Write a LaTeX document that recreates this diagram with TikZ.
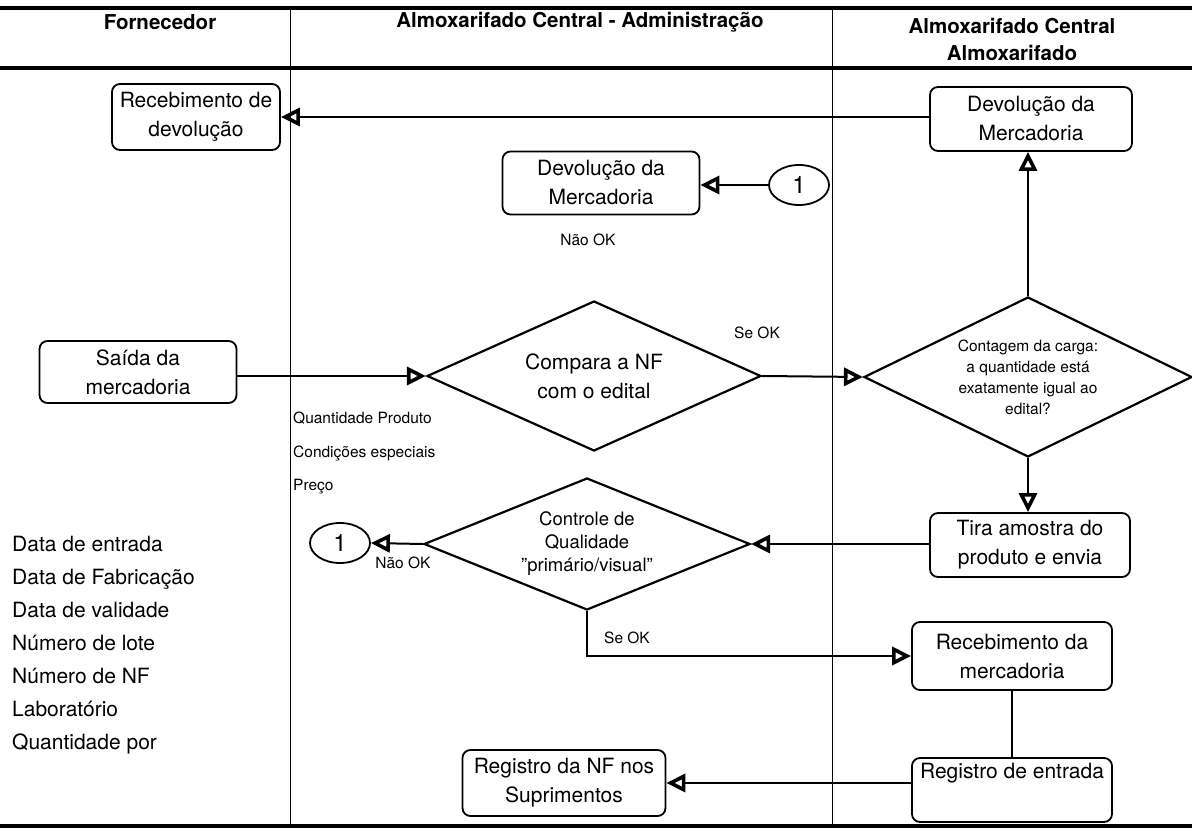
\documentclass[tikz,border=0pt]{standalone}
\usepackage{fontspec}
\setmainfont{TeX Gyre Heros}
\usetikzlibrary{arrows.meta,shapes.geometric}

% text sizes (1pt in the picture = 1 pixel of the output)
\newcommand\txtbox{\fontsize{21}{29}\selectfont}
\newcommand\txtdec{\fontsize{18.5}{23}\selectfont}
\newcommand\txtsmall{\fontsize{15.5}{21}\selectfont}
\newcommand\txtlist{\fontsize{21}{33}\selectfont}
\newcommand\txthead{\fontsize{20.5}{27}\selectfont\bfseries}
\newcommand\txtcirc{\fontsize{24}{28}\selectfont}
\newcommand\dq{\symbol{34}}

\tikzset{
  stepbox/.style={draw, line width=1.8pt, rounded corners=8pt, inner sep=0pt,
                  align=center, font=\txtbox},
  decision/.style={draw, diamond, line width=2.2pt, inner sep=0pt, align=center},
  connector/.style={ellipse, draw, line width=1.8pt, minimum width=60pt,
                    minimum height=40pt, inner sep=0pt, font=\txtcirc},
  flow/.style={line width=2pt},
  flowto/.style={flow, -{Triangle[open, length=19pt, width=18pt, line width=3.6pt]}},
  note/.style={inner sep=0pt, font=\txtsmall},
  lanehead/.style={inner sep=0pt, align=center, font=\txthead},
  lane/.style={line width=0.9pt},
  rule/.style={line width=3.5pt},
}

\begin{document}
\begin{tikzpicture}[x=1pt, y=-1pt]
\useasboundingbox (0,0) rectangle (1192,832);
\fill[white] (0,0) rectangle (1192,832);

% swimlane frame
\draw[rule] (0,8) -- (1192,8);
\draw[rule] (0,68) -- (1192,68);
\draw[rule] (0,826) -- (1192,826);
\draw[lane] (290,8) -- (290,826);
\draw[lane] (832,8) -- (832,826);

% lane titles
\node[lanehead] (hForn) at (160,22) {Fornecedor};
\node[lanehead] (hAdm) at (580,22) {Almoxarifado Central - Administração};
\node[lanehead] (hAlm) at (1012,39) {Almoxarifado Central\\Almoxarifado};

% process steps
\node[stepbox, minimum width=168pt, minimum height=66pt] (recdev) at (196,117)
  {Recebimento de\\devolução};
\node[stepbox, minimum width=202pt, minimum height=64pt] (devR) at (1031,119)
  {Devolução da\\Mercadoria};
\node[stepbox, minimum width=197pt, minimum height=63pt] (devM) at (601,183)
  {Devolução da\\Mercadoria};
\node[connector] (c1top) at (799,185) {1};
\node[note] (naoTop) at (588,240) {Não OK};

\node[stepbox, minimum width=197pt, minimum height=62pt] (saida) at (138,372)
  {Saída da\\mercadoria};
\node[decision, shape aspect=2.2, minimum width=334pt, minimum height=150pt, font=\txtbox] (compara) at (594,376)
  {Compara a NF\\com o edital};
\node[note] (seOk1) at (757,333) {Se OK};
\node[decision, shape aspect=2.05, minimum width=328pt, minimum height=160pt, font=\txtsmall] (contagem) at (1028,377)
  {Contagem da carga:\\a quantidade está\\exatamente igual ao\\edital?};

\node[note, anchor=north west, align=left, font=\fontsize{15.5}{33.5}\selectfont] (itens) at (293,412)
  {Quantidade Produto\\Condições especiais\\Preço};

\node[stepbox, minimum width=200pt, minimum height=64pt] (tira) at (1030,545)
  {Tira amostra do\\produto e envia};
\node[decision, shape aspect=2.47, minimum width=326pt, minimum height=132pt, font=\txtdec] (controle) at (587,544)
  {Controle de\\Qualidade\\\dq primário/visual\dq};
\node[connector] (c1bot) at (340,543) {1};
\node[note] (naoBot) at (403,563) {Não OK};
\node[note] (seOk2) at (627,638) {Se OK};

\node[stepbox, minimum width=200pt, minimum height=68pt] (recmerc) at (1012,656)
  {Recebimento da\\mercadoria};
\node[stepbox, minimum width=200pt, minimum height=64pt] (regent) at (1012,790)
  {Registro de entrada\\\strut};
\node[stepbox, minimum width=203pt, minimum height=66pt] (regnf) at (564,783)
  {Registro da NF nos\\Suprimentos};

% supplier data list
\node[inner sep=0pt, anchor=north west, align=left, font=\txtlist] (dados) at (12,536)
  {Data de entrada\\Data de Fabricação\\Data de validade\\Número de lote\\Número de NF\\Laboratório\\Quantidade por};

% flows
\draw[flowto] (devR.west |- recdev.east) -- (recdev.east);
\draw[flowto] (c1top.west) -- (devM.east |- c1top.west);
\draw[flowto] (saida.east |- compara.west) -- (compara.west);
\draw[flowto] (compara.east) -- (contagem.west);
\draw[flowto] (contagem.north) -- (contagem.north |- devR.south);
\draw[flowto] (contagem.south) -- (contagem.south |- tira.north);
\draw[flowto] (tira.west |- controle.east) -- (controle.east);
\draw[flowto] (controle.west) -- (c1bot.east);
\draw[flowto] (controle.south) |- (recmerc.west);
\draw[flow] (recmerc.south) -- (regent.north);
\draw[flowto] (regent.west |- regnf.east) -- (regnf.east);
\end{tikzpicture}
\end{document}
